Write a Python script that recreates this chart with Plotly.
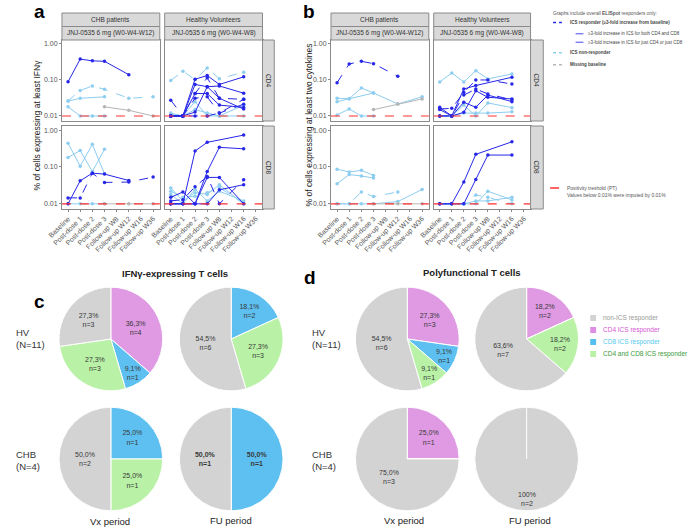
import plotly.graph_objects as go

N = None
W, H = 691, 528
FONT = "Liberation Sans, Arial, sans-serif"

cats = ["Baseline", "Post-dose 1", "Post-dose 2", "Post-dose 3",
        "Follow-up W8", "Follow-up W12", "Follow-up W16", "Follow-up W36"]

# ---------------- Panel a: IFNγ ----------------
# CHB, CD4
a_chb_cd4_r1 = [0.089, 0.38, 0.34, 0.33, N, 0.14, N, N]
a_chb_cd4_n1 = [0.026, 0.051, 0.068, 0.055, N, 0.031, N, 0.034]
a_chb_cd4_n2 = [0.026, 0.031, N, 0.034, N, N, N, N]
a_chb_cd4_n3 = [0.018, 0.01, 0.01, 0.01, N, N, N, N]
a_chb_cd4_m1 = [N, N, N, 0.018, N, 0.0143, N, 0.01]
# CHB, CD8
a_chb_cd8_r1 = [0.01, 0.042, 0.068, 0.064, N, 0.043, N, N]
a_chb_cd8_r2 = [0.0145, 0.0145, 0.068, 0.038, N, 0.039, N, 0.053]
a_chb_cd8_n1 = [0.44, 0.105, 0.41, 0.065, N, N, N, N]
a_chb_cd8_n2 = [0.18, 0.28, 0.075, 0.30, N, N, N, N]
a_chb_cd8_n3 = [0.01, 0.01, 0.01, 0.01, N, N, N, N]
a_chb_cd8_m1 = [N, N, N, 0.01, N, 0.01, N, 0.01]
# HV, CD4
a_hv_cd4_r1 = [0.01, 0.01, 0.105, 0.133, 0.075, N, 0.122, N]
a_hv_cd4_r2 = [0.01, 0.01, 0.075, 0.065, 0.068, N, 0.043, N]
a_hv_cd4_r3 = [0.01, 0.01, 0.042, 0.115, 0.031, N, 0.029, N]
a_hv_cd4_r4 = [0.01, 0.01, 0.042, 0.042, 0.02, N, 0.0173, N]
a_hv_cd4_r5 = [0.0274, 0.01, 0.031, 0.034, 0.012, N, 0.0213, N]
a_hv_cd4_r6 = [0.01, 0.01, 0.0128, 0.065, 0.031, N, 0.0155, N]
a_hv_cd4_r7 = [0.01, 0.01, 0.01, 0.01, 0.012, N, 0.029, N]
a_hv_cd4_n1 = [0.097, 0.175, 0.103, 0.215, 0.108, N, 0.164, N]
a_hv_cd4_n2 = [0.012, 0.01, 0.025, 0.01, 0.01, N, 0.02, N]
a_hv_cd4_n3 = [0.011, 0.01, 0.015, 0.012, 0.01, N, 0.01, N]
# HV, CD8
a_hv_cd8_r1 = [0.01, 0.01, 0.27, 0.465, N, N, 0.73, N]
a_hv_cd8_r2 = [0.01, 0.01, 0.01, 0.075, 0.34, N, 0.31, N]
a_hv_cd8_r3 = [0.015, 0.021, 0.01, 0.052, 0.052, N, 0.01, N]
a_hv_cd8_r4 = [0.012, 0.013, 0.029, 0.055, 0.01, N, 0.045, N]
a_hv_cd8_r5 = [0.01, 0.01, 0.01, 0.01, 0.024, N, 0.033, N]
a_hv_cd8_n1 = [0.027, 0.012, 0.02, 0.018, 0.033, N, 0.01, N]
a_hv_cd8_n2 = [0.022, 0.015, 0.016, 0.02, 0.028, N, 0.01, N]
a_hv_cd8_n3 = [0.018, 0.01, 0.025, 0.012, 0.022, N, 0.012, N]

# ---------------- Panel b: two cytokines ----------------
b_chb_cd4_r1 = [0.084, 0.278, 0.33, 0.284, N, 0.126, N, N]
b_chb_cd4_n1 = [0.031, 0.030, 0.06, 0.0435, N, 0.0215, N, 0.034]
b_chb_cd4_n2 = [0.025, 0.030, N, 0.0435, N, N, N, N]
b_chb_cd4_n3 = [0.0107, 0.0156, 0.01, 0.01, N, N, N, N]
b_chb_cd4_m1 = [N, N, N, 0.015, N, 0.0215, N, 0.0297]
b_chb_cd8_n1 = [0.087, 0.073, 0.081, 0.059, N, N, N, N]
b_chb_cd8_n2 = [0.035, 0.062, 0.057, 0.05, N, N, N, N]
b_chb_cd8_n3 = [0.01, 0.01, 0.021, 0.0157, N, 0.021, N, N]
b_chb_cd8_n4 = [0.01, 0.01, 0.01, 0.01, N, 0.0115, N, 0.0246]
b_chb_cd8_m1 = [N, N, N, 0.01, N, 0.01, N, 0.01]
b_hv_cd4_r1 = [0.0174, 0.01, 0.056, 0.07, N, N, 0.119, N]
b_hv_cd4_r2 = [0.0156, 0.0163, 0.045, 0.1, 0.1, N, 0.077, N]
b_hv_cd4_r3 = [0.01, 0.01, 0.038, 0.056, 0.041, N, 0.028, N]
b_hv_cd4_r4 = [0.015, 0.01, 0.024, 0.0174, 0.038, N, 0.025, N]
b_hv_cd4_r5 = [0.01, 0.01, 0.0126, 0.05, 0.033, N, 0.0297, N]
b_hv_cd4_n1 = [0.088, 0.157, 0.088, 0.18, 0.107, N, 0.147, N]
b_hv_cd4_n2 = [0.01, 0.01, 0.02, 0.01, 0.023, N, 0.017, N]
b_hv_cd4_n3 = [0.01, 0.01, 0.012, 0.012, 0.012, N, 0.013, N]
b_hv_cd8_r1 = [0.01, 0.01, 0.039, 0.22, N, N, 0.48, N]
b_hv_cd8_r2 = [0.01, 0.01, 0.01, 0.046, 0.21, N, 0.21, N]
b_hv_cd8_n1 = [0.01, 0.01, 0.01, 0.01, 0.022, N, 0.0128, N]
b_hv_cd8_n2 = [0.01, 0.01, 0.01, 0.0174, 0.015, N, 0.01, N]
b_hv_cd8_n3 = [0.01, 0.01, 0.01, 0.012, 0.012, N, 0.015, N]

# ---------------- Pies ----------------
pie_groups = ["CD4 ICS responder", "CD8 ICS responder", "CD4 and CD8 ICS responder", "non-ICS responder"]
c_hv_vx = [4, 1, 3, 3]
c_hv_vx_txt = ["36,3%<br>n=4", "9,1%<br>n=1", "27,3%<br>n=3", "27,3%<br>n=3"]
c_hv_fu = [0, 2, 3, 6]
c_hv_fu_txt = ["", "18,1%<br>n=2", "27,3%<br>n=3", "54,5%<br>n=6"]
c_chb_vx = [0, 1, 1, 2]
c_chb_vx_txt = ["", "25,0%<br>n=1", "25,0%<br>n=1", "50,0%<br>n=2"]
c_chb_fu = [0, 1, 0, 1]
c_chb_fu_txt = ["", "<b>50,0%<br>n=1</b>", "", "<b>50,0%<br>n=1</b>"]
d_hv_vx = [3, 1, 1, 6]
d_hv_vx_txt = ["27,3%<br>n=3", "9,1%<br>n=1", "9,1%<br>n=1", "54,5%<br>n=6"]
d_hv_fu = [2, 0, 2, 7]
d_hv_fu_txt = ["18,2%<br>n=2", "", "18,2%<br>n=2", "63,6%<br>n=7"]
d_chb_vx = [1, 0, 0, 3]
d_chb_vx_txt = ["25,0%<br>n=1", "", "", "75,0%<br>n=3"]
d_chb_fu = [0, 0, 0, 2]
d_chb_fu_label = "100%<br>n=2"

C_RESP = "#2727e8"
C_NON = "#8ccdf0"
C_MISS = "#b5b5b5"
PIE_COLORS = ["#df9ae3", "#5ec0f0", "#b9f2a6", "#d3d3d3"]


def fx(x):
    return x / W


def fy(y):
    return 1 - y / H


fig = go.Figure()
shapes = []
annotations = []

# panels: key -> (x0, x1, y0, y1) in px
panels = {
    1: (48, 148, 40, 121), 2: (153, 253, 40, 121),
    3: (48, 148, 126, 209), 4: (153, 253, 126, 209),
    5: (323, 423, 40, 121), 6: (428, 527, 40, 121),
    7: (323, 423, 126, 209), 8: (428, 527, 126, 209),
}
bottom = {3, 4, 7, 8}
left = {1, 3, 5, 7}

series = {
    1: [(a_chb_cd4_r1, "r", "solid"), (a_chb_cd4_n1, "n", "dash"), (a_chb_cd4_n2, "n", "solid"),
        (a_chb_cd4_n3, "n", "solid"), (a_chb_cd4_m1, "m", "solid")],
    3: [(a_chb_cd8_n1, "n", "solid"), (a_chb_cd8_n2, "n", "solid"), (a_chb_cd8_n3, "n", "solid"),
        (a_chb_cd8_m1, "m", "solid"), (a_chb_cd8_r1, "r", "solid"), (a_chb_cd8_r2, "r", "dash")],
    2: [(a_hv_cd4_n1, "n", "dash"), (a_hv_cd4_n2, "n", "solid"), (a_hv_cd4_n3, "n", "solid"),
        (a_hv_cd4_r1, "r", "solid"), (a_hv_cd4_r2, "r", "solid"), (a_hv_cd4_r3, "r", "dash"),
        (a_hv_cd4_r4, "r", "solid"), (a_hv_cd4_r5, "r", "dash"), (a_hv_cd4_r6, "r", "solid"),
        (a_hv_cd4_r7, "r", "dash")],
    4: [(a_hv_cd8_n1, "n", "solid"), (a_hv_cd8_n2, "n", "dash"), (a_hv_cd8_n3, "n", "solid"),
        (a_hv_cd8_r1, "r", "solid"), (a_hv_cd8_r2, "r", "solid"), (a_hv_cd8_r3, "r", "solid"),
        (a_hv_cd8_r4, "r", "dash"), (a_hv_cd8_r5, "r", "solid")],
    5: [(b_chb_cd4_n1, "n", "solid"), (b_chb_cd4_n2, "n", "solid"), (b_chb_cd4_n3, "n", "solid"),
        (b_chb_cd4_m1, "m", "solid"), (b_chb_cd4_r1, "r", "dash")],
    7: [(b_chb_cd8_n1, "n", "solid"), (b_chb_cd8_n2, "n", "solid"), (b_chb_cd8_n3, "n", "dash"),
        (b_chb_cd8_n4, "n", "solid"), (b_chb_cd8_m1, "m", "solid")],
    6: [(b_hv_cd4_n1, "n", "solid"), (b_hv_cd4_n2, "n", "solid"), (b_hv_cd4_n3, "n", "solid"),
        (b_hv_cd4_r1, "r", "solid"), (b_hv_cd4_r2, "r", "dash"), (b_hv_cd4_r3, "r", "dash"),
        (b_hv_cd4_r4, "r", "solid"), (b_hv_cd4_r5, "r", "solid")],
    8: [(b_hv_cd8_n1, "n", "solid"), (b_hv_cd8_n2, "n", "dash"), (b_hv_cd8_n3, "n", "solid"),
        (b_hv_cd8_r1, "r", "solid"), (b_hv_cd8_r2, "r", "solid")],
}
cmap = {"r": C_RESP, "n": C_NON, "m": C_MISS}

layout_axes = {}
for k, (x0, x1, y0, y1) in panels.items():
    xs = "" if k == 1 else str(k)
    layout_axes["xaxis" + xs] = dict(
        domain=[fx(x0), fx(x1)], anchor="y" + xs, type="category", categoryarray=cats,
        range=[-0.5, 7.55], showline=True, mirror=True, linecolor="#8a8a8a", linewidth=1,
        showgrid=False, zeroline=False, ticks="outside" if k in bottom else "", ticklen=2,
        tickcolor="#8a8a8a", showticklabels=k in bottom, tickangle=-45,
        tickfont=dict(size=7, color="#555555", family=FONT),
    )
    layout_axes["yaxis" + xs] = dict(
        domain=[fy(y1), fy(y0)], anchor="x" + xs, type="log", range=[-2.14, 0.11],
        tickvals=[0.01, 0.1, 1], ticktext=["0.01", "0.10", "1.00"],
        showline=True, mirror=True, linecolor="#8a8a8a", linewidth=1, showgrid=False,
        zeroline=False, ticks="outside" if k in left else "", ticklen=2, tickcolor="#8a8a8a",
        showticklabels=k in left, tickfont=dict(size=7, color="#555555", family=FONT),
    )
    for vals, st, dash in series[k]:
        fig.add_trace(go.Scatter(
            x=cats, y=vals, xaxis="x" + xs, yaxis="y" + xs, mode="lines+markers",
            connectgaps=True, line=dict(color=cmap[st], width=1, dash=dash),
            marker=dict(color=cmap[st], size=3.5), showlegend=False, hoverinfo="skip"))
    shapes.append(dict(type="line", xref="x" + xs + " domain", x0=0, x1=1, yref="y" + xs,
                       y0=0.01, y1=0.01, line=dict(color="#ff3030", width=1.1, dash="dash")))

# strips
def strip(x0, x1, y0, y1, text, angle=0):
    shapes.append(dict(type="rect", xref="paper", yref="paper", x0=fx(x0), x1=fx(x1),
                       y0=fy(y1), y1=fy(y0), fillcolor="#d9d9d9", line=dict(color="#8a8a8a", width=1)))
    annotations.append(dict(x=fx((x0 + x1) / 2), y=fy((y0 + y1) / 2), xref="paper", yref="paper",
                            text=text, showarrow=False, textangle=angle, borderpad=0,
                            xanchor="center", yanchor="middle",
                            font=dict(size=6.5, color="#333", family=FONT)))

for (x0, x1), reg in [((48, 148), "W0-W4-W12"), ((153, 253), "W0-W4-W8"),
                      ((323, 423), "W0-W4-W12"), ((428, 527), "W0-W4-W8")]:
    strip(x0, x1, 13, 26.5, "CHB patients" if reg.endswith("W12") else "Healthy Volunteers")
    strip(x0, x1, 26.5, 40, "JNJ-0535 6 mg (" + reg + ")")
for xs in [(253, 265), (527, 540)]:
    strip(xs[0], xs[1], 40, 121, "CD4", 90)
    strip(xs[0], xs[1], 126, 209, "CD8", 90)

def text(x, y, t, size, color="#222", xanchor="center", bold=False, angle=0, yanchor="middle", align="center"):
    annotations.append(dict(x=fx(x), y=fy(y), xref="paper", yref="paper",
                            text=("<b>%s</b>" % t) if bold else t, showarrow=False,
                            xanchor=xanchor, yanchor=yanchor, textangle=angle, align=align,
                            borderpad=0, font=dict(size=size, color=color, family=FONT)))

# panel letters
text(25, 12, "a", 19, "#000", bold=True)
text(301, 12, "b", 19, "#000", bold=True)
text(25, 301, "c", 19, "#000", bold=True)
text(302, 277, "d", 19, "#000", bold=True)

# y axis titles
text(22, 125, "% of cells expressing at least IFNγ", 8.5, "#222", angle=-90)
text(301, 125, "% of cells expressing at least two cytokines", 8.5, "#222", angle=-90)

# legend (top right)
LX = 549
text(LX, 13.5, "Graphs include overall <b>ELISpot</b> responders only:", 4.8, "#555", xanchor="left")
rows = [
    (22.5, (550, 559), C_RESP, "dot", "ICS responder (≥3-fold increase from baseline)", True, 566),
    (33.7, (573, 581), "#8080f0", "solid", "≥3-fold increase in ICS for both CD4 and CD8", False, 585),
    (42.3, (573, 581), "#8080f0", "dash", "≥3-fold increase in ICS for just CD4 or just CD8", False, 585),
    (52.7, (550, 559), C_NON, "dot", "ICS non-responder", True, 566),
    (64.7, (550, 559), C_MISS, "dot", "Missing baseline", True, 566),
]
for y, (xa, xb), col, dash, t, b, tx in rows:
    shapes.append(dict(type="line", xref="paper", yref="paper", x0=fx(xa), x1=fx(xb), y0=fy(y), y1=fy(y),
                       line=dict(color=col, width=1.5, dash=dash)))
    text(tx, y, t, 4.5, "#444", xanchor="left", bold=b)
shapes.append(dict(type="line", xref="paper", yref="paper", x0=fx(547), x1=fx(558), y0=fy(188), y1=fy(188),
                   line=dict(color="#ff3030", width=1.5, dash="dash")))
text(563, 188, "Positivity treshold (PT)", 5, "#555", xanchor="left")
text(563, 194.5, "Values below 0.01% were imputed by 0.01%", 5, "#555", xanchor="left")

# pie panel titles
text(164, 273, "IFNγ-expressing T cells", 9.5, "#222", bold=True)
text(467, 272, "Polyfunctional T cells", 9.5, "#222", bold=True)
for x0 in (0, 303):
    text(x0, 338, "HV<br>(N=11)", 9.5, "#333", xanchor="left", align="left")
    text(x0, 460, "CHB<br>(N=4)", 9.5, "#333", xanchor="left", align="left")
text(97, 521, "Vx period", 9.5, "#222")
text(221, 520, "FU period", 9.5, "#222")
text(398, 520, "Vx period", 9.5, "#222")
text(526, 520, "FU period", 9.5, "#222")

# pies
R = 53
pies = [
    (98, 339, c_hv_vx, c_hv_vx_txt), (221, 339, c_hv_fu, c_hv_fu_txt),
    (98, 459, c_chb_vx, c_chb_vx_txt), (221, 459, c_chb_fu, c_chb_fu_txt),
    (401, 339, d_hv_vx, d_hv_vx_txt), (523, 339, d_hv_fu, d_hv_fu_txt),
    (401, 459, d_chb_vx, d_chb_vx_txt), (523, 459, d_chb_fu, ["", "", "", ""]),
]
for cx, cy, vals, txt in pies:
    fig.add_trace(go.Pie(
        labels=pie_groups, values=vals, text=txt, textinfo="text", sort=False,
        direction="clockwise", rotation=0, textposition="inside",
        insidetextorientation="horizontal",
        marker=dict(colors=PIE_COLORS, line=dict(color="white", width=1)),
        textfont=dict(size=7, color="#383838", family=FONT),
        domain=dict(x=[fx(cx - R), fx(cx + R)], y=[fy(cy + R), fy(cy - R)]),
        showlegend=False, hoverinfo="skip"))
# single-slice (100%) pie: slice boundary and its label near the bottom, as in the original
shapes.append(dict(type="line", xref="paper", yref="paper", x0=fx(523), x1=fx(523),
                   y0=fy(459), y1=fy(459 - R), line=dict(color="white", width=1)))
text(523, 499, d_chb_fu_label, 7, "#383838")

# pie legend (d)
leg_cols = ["#999999", "#d455d4", "#55c8ee", "#3a9a3a"]
leg_sq = ["#d3d3d3", "#df8fe3", "#55c0ee", "#b9f2a6"]
leg_txt = ["non-ICS responder", "CD4 ICS responder", "CD8 ICS responder", "CD4 and CD8 ICS responder"]
for i, (tc, sc, t) in enumerate(zip(leg_cols, leg_sq, leg_txt)):
    y = 318 + 12 * i
    shapes.append(dict(type="rect", xref="paper", yref="paper", x0=fx(588), x1=fx(594),
                       y0=fy(y + 3), y1=fy(y - 3), fillcolor=sc, line=dict(width=0)))
    text(600, y, t, 6.5, tc, xanchor="left")

fig.update_layout(
    width=W, height=H, margin=dict(l=0, r=0, t=0, b=0),
    paper_bgcolor="white", plot_bgcolor="white",
    shapes=shapes, annotations=annotations, font=dict(family=FONT),
    **layout_axes,
)
fig.write_html("out.html")
